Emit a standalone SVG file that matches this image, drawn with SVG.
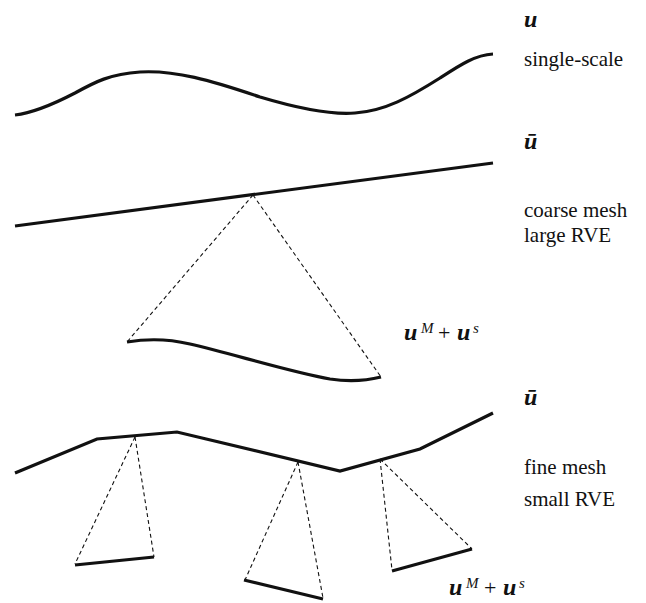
<svg xmlns="http://www.w3.org/2000/svg" width="646" height="603" viewBox="0 0 646 603">
<style>
.thick{fill:none;stroke:#111;stroke-width:3.2;stroke-linecap:butt;stroke-linejoin:miter}
.dash{fill:none;stroke:#111;stroke-width:1.1;stroke-dasharray:4 3}
text{font-family:'Liberation Serif','DejaVu Serif',serif;fill:#111}
.lbl{font-size:21px}
.vec{font-size:24px;font-weight:bold;font-style:italic}
.sup{font-size:15px;font-style:italic}
.op{font-size:22px}
</style>
<rect width="646" height="603" fill="#fff"/>
<g id="single-scale">
<path class="thick" d="M15,115 C32,113 50,106 75,93 C95,82 110,74 140,72 C175,70 210,80 260,97 C300,109 330,115 355,113 C385,111 410,97 440,78 C460,65 475,55 493,54"/>
<text class="vec" x="524" y="27">u</text>
<text class="lbl" x="524" y="66">single-scale</text>
</g>
<g id="coarse">
<path class="thick" d="M15,226 L493,163"/>
<path class="thick" d="M127,342 C145,339 165,338 190,344 C230,353 290,372 330,379 C350,382 365,381 381,377"/>
<text class="vec" x="524" y="149">ū</text>
<text class="lbl" x="524" y="217">coarse mesh</text>
<text class="lbl" x="524" y="242">large RVE</text>
<text class="vec" x="404" y="340">u</text>
<text class="sup" x="421" y="333">M</text>
<text class="op" x="438" y="340">+</text>
<text class="vec" x="457" y="340">u</text>
<text class="sup" x="473" y="333">s</text>
</g>
<g id="fine">
<path class="thick" d="M15,473 L97,439 L177,432 L340,471 L420,449 L493,413"/>
<path class="thick" d="M75,565 L154,557"/>
<path class="thick" d="M244,580 L323,599"/>
<path class="thick" d="M392,571 L472,549"/>
<text class="vec" x="524" y="405">ū</text>
<text class="lbl" x="524" y="474">fine mesh</text>
<text class="lbl" x="524" y="506">small RVE</text>
<text class="vec" x="449" y="595">u</text>
<text class="sup" x="466" y="588">M</text>
<text class="op" x="484" y="595">+</text>
<text class="vec" x="503" y="595">u</text>
<text class="sup" x="519" y="588">s</text>
</g>
<g id="connectors">
<path class="dash" d="M253,195 L127,342"/>
<path class="dash" d="M253,195 L381,377"/>
<path class="dash" d="M135,437 L75,564"/>
<path class="dash" d="M135,437 L154,557"/>
<path class="dash" d="M298,462 L245,580"/>
<path class="dash" d="M298,462 L323,598"/>
<path class="dash" d="M380,459 L392,570"/>
<path class="dash" d="M380,459 L472,549"/>
</g>
</svg>
